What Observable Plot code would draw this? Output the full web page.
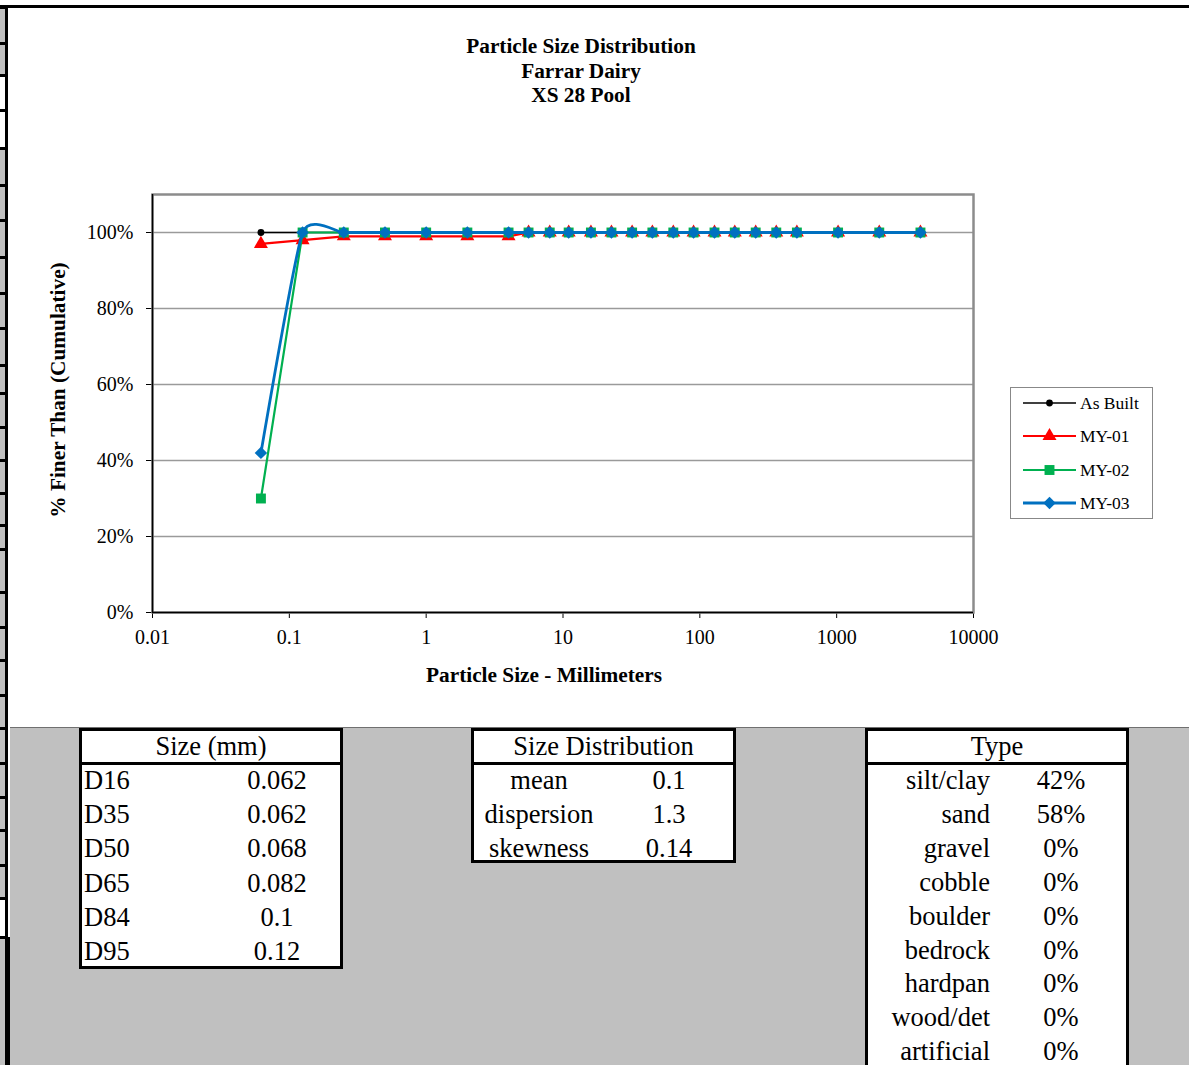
<!DOCTYPE html>
<html>
<head>
<meta charset="utf-8">
<script src="https://cdn.jsdelivr.net/npm/d3@7"></script>
<script src="https://cdn.jsdelivr.net/npm/@observablehq/plot@0.6"></script>
<style>
  html, body { margin: 0; padding: 0; background: #fff; width: 1189px; height: 1065px; overflow: hidden; }
  body { position: relative; font-family: "Liberation Serif", "Times New Roman", serif; color: #000; }
  .abs { position: absolute; }
  #title { left: 331px; top: 34px; width: 500px; text-align: center; font-weight: bold; font-size: 21.3px; line-height: 24.5px; }
  #chart { left: 8px; top: 7px; }
  #ylabel { left: 58px; top: 390px; width: 0; height: 0; }
  #ylabel div { position: absolute; left: -200px; top: -12px; width: 400px; text-align: center; font-weight: bold; font-size: 21.3px; line-height: 24px; transform: rotate(-90deg); white-space: nowrap; }
  #legend { left: 1010px; top: 387px; width: 143px; height: 132px; border: 1px solid #888; background: #fff; box-sizing: border-box; }
  .lg { position: absolute; left: 0; height: 20px; width: 142px; }
  .lg svg { position: absolute; left: 12px; top: 0; }
  .lg span { position: absolute; left: 69px; top: 0; font-size: 17.5px; line-height: 20px; }
  #lower { left: 10px; top: 727px; width: 1179px; height: 338px; background: #c0c0c0; border-top: 1px solid #707070; }
  .tbl { position: absolute; background: #fff; border: 3px solid #000; box-sizing: border-box; font-size: 26.5px; }
  .hdr { position: absolute; left: 0; right: 0; top: 0; height: 31px; border-bottom: 3px solid #000; text-align: center; line-height: 31px; }
  .cell { position: absolute; line-height: 34px; white-space: nowrap; }
</style>
</head>
<body>
<div id="leftstrip"></div>
<div class="abs" style="left:0;top:5px;width:1189px;height:3px;background:#000"></div>
<div class="abs" id="title">Particle Size Distribution<br>Farrar Dairy<br>XS 28 Pool</div>
<div class="abs" id="chart"></div>
<div class="abs" id="ylabel"><div>% Finer Than (Cumulative)</div></div>
<div class="abs" id="legend"></div>
<div class="abs" id="lower"></div>
<div id="tables"></div>
<script>
// ---- Data ----
const sizes = [0.062, 0.125, 0.25, 0.5, 1, 2, 4, 5.6, 8, 11, 16, 22.6, 32, 45, 64, 90, 128, 180, 256, 362, 512, 1024, 2048, 4096];
const asBuilt = [100, 100, 100, 100, 100, 100, 100, 100, 100, 100, 100, 100, 100, 100, 100, 100, 100, 100, 100, 100, 100, 100, 100, 100];
const my01    = [97, 98, 99, 99, 99, 99, 99, 100, 100, 100, 100, 100, 100, 100, 100, 100, 100, 100, 100, 100, 100, 100, 100, 100];
const my02    = [30, 100, 100, 100, 100, 100, 100, 100, 100, 100, 100, 100, 100, 100, 100, 100, 100, 100, 100, 100, 100, 100, 100, 100];
const my03    = [42, 100, 100, 100, 100, 100, 100, 100, 100, 100, 100, 100, 100, 100, 100, 100, 100, 100, 100, 100, 100, 100, 100, 100];

const seriesNames = ["As Built", "MY-01", "MY-02", "MY-03"];
const seriesValues = [asBuilt, my01, my02, my03];
const seriesColors = ["#000000", "#FF0000", "#00B050", "#0070C0"];

const xTicks = [0.01, 0.1, 1, 10, 100, 1000, 10000];
const yTicks = [0, 20, 40, 60, 80, 100];
const yGrid = [20, 40, 60, 80, 100];

const sizeLabels = ["D16", "D35", "D50", "D65", "D84", "D95"];
const sizeValues = ["0.062", "0.062", "0.068", "0.082", "0.1", "0.12"];
const distLabels = ["mean", "dispersion", "skewness"];
const distValues = ["0.1", "1.3", "0.14"];
const typeLabels = ["silt/clay", "sand", "gravel", "cobble", "boulder", "bedrock", "hardpan", "wood/det", "artificial"];
const typeValues = ["42%", "58%", "0%", "0%", "0%", "0%", "0%", "0%", "0%"];

// ---- Styles per series ----
const diamond = d3.symbolDiamond2 || { draw(ctx, size) { const r = Math.sqrt(size / 2); ctx.moveTo(0, -r); ctx.lineTo(r, 0); ctx.lineTo(0, r); ctx.lineTo(-r, 0); ctx.closePath(); } };
const seriesSymbols = [d3.symbolCircle, d3.symbolTriangle, d3.symbolSquare, diamond];
const seriesR = [3.4, 5.2, 5.6, 5.6];
const seriesWidth = [1.5, 2.2, 2.2, 2.8];

const rows = seriesNames.map((name, i) => seriesValues[i].map((v, j) => ({series: name, size: sizes[j], pct: v})));

const marks = [
  Plot.ruleY(yGrid, {stroke: "#9a9a9a", strokeWidth: 1.5}),
  Plot.frame({stroke: "#8c8c8c", strokeWidth: 2.5}),
  Plot.ruleX([0.01], {stroke: "#000", strokeWidth: 1.5}),
  Plot.ruleY([0], {stroke: "#000", strokeWidth: 1.5})
];
rows.forEach((d, i) => {
  const opts = {x: "size", y: "pct", stroke: seriesColors[i], strokeWidth: seriesWidth[i]};
  if (i === 3) { opts.curve = "cardinal"; opts.tension = 0.5; }
  marks.push(Plot.line(d, opts));
  marks.push(Plot.dot(d, {x: "size", y: "pct", fill: seriesColors[i], symbol: seriesSymbols[i], r: seriesR[i], stroke: "none"}));
});
marks.push(Plot.text(["Particle Size - Millimeters"], {frameAnchor: "bottom", dx: -19, dy: 69, fontWeight: "bold", fontSize: 21.3, text: d => d}));

const chart = Plot.plot({
  width: 1181,
  height: 720,
  marginLeft: 144,
  marginRight: 216,
  marginTop: 187,
  marginBottom: 115,
  style: {fontFamily: "Liberation Serif, Times New Roman, serif", fontSize: "20px", color: "#000", background: "transparent", overflow: "visible"},
  x: {type: "log", domain: [0.01, 10000], ticks: xTicks, tickFormat: d => String(d), tickSize: 6, tickPadding: 11, label: null},
  y: {domain: [0, 110], ticks: yTicks, tickFormat: d => d + "%", tickSize: 6, tickPadding: 13, label: null},
  marks
});
document.getElementById("chart").appendChild(chart);

// ---- Legend ----
const legend = document.getElementById("legend");
const legendTops = [5, 38, 72, 105];
seriesNames.forEach((name, i) => {
  const row = document.createElement("div");
  row.className = "lg";
  row.style.top = legendTops[i] + "px";
  const svg = d3.create("svg").attr("width", 54).attr("height", 20);
  svg.append("line").attr("x1", 0).attr("x2", 53).attr("y1", 10).attr("y2", 10)
    .attr("stroke", seriesColors[i]).attr("stroke-width", seriesWidth[i]);
  svg.append("path").attr("transform", "translate(26.5,10)")
    .attr("d", d3.symbol(seriesSymbols[i], Math.PI * seriesR[i] * seriesR[i])())
    .attr("fill", seriesColors[i]);
  row.appendChild(svg.node());
  const sp = document.createElement("span");
  sp.textContent = name;
  row.appendChild(sp);
  legend.appendChild(row);
});

// ---- Left spreadsheet strip ----
const strip = document.getElementById("leftstrip");
const stripLines = [7, 43, 75, 110, 148, 185, 220, 257, 293, 328, 365, 393, 427, 460, 493, 525, 549, 592, 627, 660, 695, 728, 763, 797, 830, 865, 898, 937];
const whiteCells = [[75, 148], [898, 937]];
let html = '<div class="abs" style="left:0;top:7px;width:5px;height:1058px;background:#c0c0c0"></div>';
whiteCells.forEach(([a, b]) => { html += `<div class="abs" style="left:0;top:${a}px;width:5px;height:${b - a}px;background:#fff"></div>`; });
stripLines.forEach(y => { html += `<div class="abs" style="left:0;top:${y - 1}px;width:6px;height:3px;background:#000"></div>`; });
html += '<div class="abs" style="left:5px;top:5px;width:3px;height:932px;background:#000"></div>';
html += '<div class="abs" style="left:5px;top:937px;width:5px;height:128px;background:#000"></div>';
strip.innerHTML = html;

// ---- Tables ----
const tables = document.getElementById("tables");
function makeTable(left, top, width, height, header, labels, values, labelStyle, valueStyle, step) {
  let h = `<div class="tbl" style="left:${left}px;top:${top}px;width:${width}px;height:${height}px">`;
  h += `<div class="hdr">${header}</div>`;
  labels.forEach((lab, i) => {
    const t = 32 + i * step;
    h += `<div class="cell" style="top:${t}px;${labelStyle}">${lab}</div>`;
    h += `<div class="cell" style="top:${t}px;${valueStyle}">${values[i]}</div>`;
  });
  h += `</div>`;
  return h;
}
tables.innerHTML =
  makeTable(79, 728, 264, 241, "Size (mm)", sizeLabels, sizeValues,
    "left:2px;", "left:145px;width:100px;text-align:center;", 34.2) +
  makeTable(471, 728, 265, 135, "Size Distribution", distLabels, distValues,
    "left:-2px;width:134px;text-align:center;", "left:145px;width:100px;text-align:center;", 33.8) +
  makeTable(865, 728, 264, 345, "Type", typeLabels, typeValues,
    "right:136px;text-align:right;", "left:143px;width:100px;text-align:center;", 33.9);
</script>
</body>
</html>
